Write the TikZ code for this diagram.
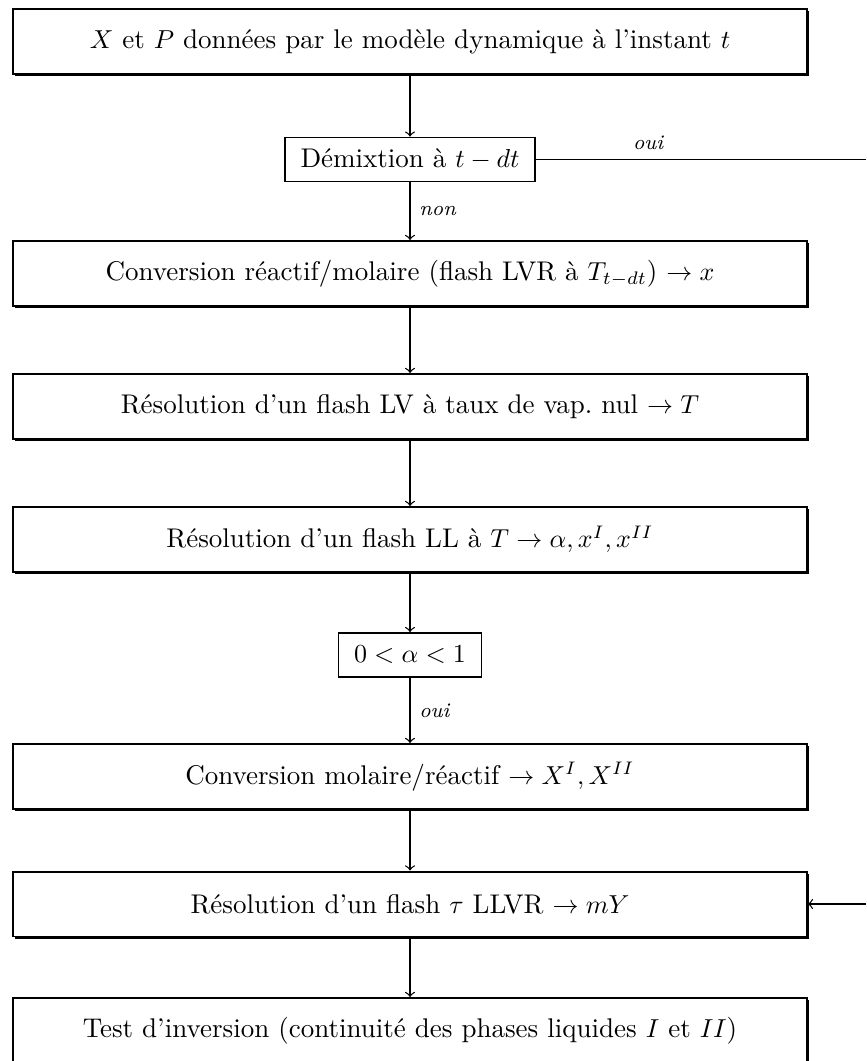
\documentclass[tikz,border=0pt]{standalone}
\usepackage{fontspec}
\usetikzlibrary{shadows}

\begin{document}
\begin{tikzpicture}[x=0.385pt, y=-0.385pt, >=to, font=\fontsize{10.4}{12.5}\selectfont,
  etape/.style={draw, line width=0.75pt, fill=white, minimum width=305.5pt,
    minimum height=25pt, inner sep=2pt,
    drop shadow={shadow xshift=0.8pt, shadow yshift=-0.8pt, opacity=1, fill=black}},
  test/.style={draw, line width=0.6pt, fill=white, minimum height=17pt,
    inner xsep=6pt, inner ysep=3pt},
  lien/.style={->, line width=0.5pt},
  rep/.style={font=\footnotesize\itshape}]
  \useasboundingbox (0,0) rectangle (866,1061);
  \node[etape] (donnees) at (410,41.5) {$X$ et $P$ données par le modèle dynamique à l'instant $t$};
  \node[test] (demix) at (410,159.5) {Démixtion à $t-dt$};
  \node[etape] (convrm) at (410,273.5) {Conversion réactif/molaire (flash LVR à $T_{t-dt}$) $\to x$};
  \node[etape] (flashlv) at (410,406.5) {Résolution d'un flash LV à taux de vap.\ nul $\to T$};
  \node[etape] (flashll) at (410,539.5) {Résolution d'un flash LL à $T \to \alpha, x^I, x^{II}$};
  \node[test] (alpha) at (410,655) {$0<\alpha<1$};
  \node[etape] (convmr) at (410,776.5) {Conversion molaire/réactif $\to X^I, X^{II}$};
  \node[etape] (flashllvr) at (410,904) {Résolution d'un flash $\tau$ LLVR $\to mY$};
  \node[etape] (inversion) at (410,1030.5) {Test d'inversion (continuité des phases liquides $I$ et $II$)};
  \coordinate (sortie) at (866,159.5);
  \coordinate (retour) at (866,904);
  \draw[lien] (donnees) -- (demix);
  \draw[lien] (demix) -- node[right, rep] {non} (convrm);
  \draw[line width=0.5pt] (demix) -- node[above, rep, pos=0.34] {oui} (sortie);
  \draw[lien] (convrm) -- (flashlv);
  \draw[lien] (flashlv) -- (flashll);
  \draw[lien] (flashll) -- (alpha);
  \draw[lien] (alpha) -- node[right, rep] {oui} (convmr);
  \draw[lien] (convmr) -- (flashllvr);
  \draw[lien] (retour) -- (flashllvr);
  \draw[lien] (flashllvr) -- (inversion);
\end{tikzpicture}
\end{document}
